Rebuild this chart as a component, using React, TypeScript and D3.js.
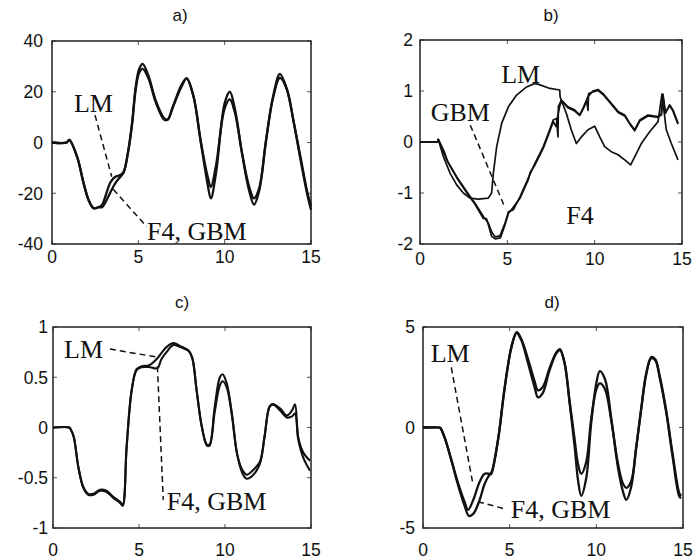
import React from "react";
import * as d3 from "d3";

type P = [number, number];

const xTicks = [0, 5, 10, 15];
const aTicks = [-40, -20, 0, 20, 40];
const bTicks = [-2, -1, 0, 1, 2];
const cTicks = [-1, -0.5, 0, 0.5, 1];
const dTicks = [-5, 0, 5];
const titles = ["a)", "b)", "c)", "d)"];

// Panel a
const aF4: P[] = [[0,0],[0.85,0],[1.0,1],[1.45,-5.6],[1.83,-16],[2.12,-22.7],[2.41,-25.9],[2.7,-25.5],[2.9,-25.5],[3.1,-23.5],[3.4,-19.4],[3.67,-16],[3.96,-13.5],[4.15,-11.8],[4.4,-4],[4.63,7],[4.85,22],[5.05,29],[5.25,31],[5.6,26],[6.0,16.7],[6.5,9.5],[6.7,9],[7.0,14],[7.5,22.7],[7.8,25.3],[8.2,18],[8.6,1],[9.0,-16],[9.2,-22],[9.5,-12],[10.0,15.5],[10.3,20],[10.6,13],[11.0,-4],[11.4,-18.5],[11.7,-24.5],[12.0,-19],[12.4,1],[12.8,18],[13.2,27],[13.6,21],[14.0,8],[14.4,-7],[14.8,-21],[15.0,-26.5]];
const aLM: P[] = [[0,0],[0.85,0],[1.0,1],[1.45,-5.6],[1.83,-16],[2.12,-22.7],[2.41,-25.9],[2.7,-25.5],[2.9,-24.6],[3.1,-21],[3.4,-15.5],[3.67,-13.5],[3.96,-12.8],[4.15,-11.5],[4.4,-4],[4.63,7],[4.85,21],[5.05,27.5],[5.25,29],[5.6,25],[6.0,16],[6.5,9],[6.7,9],[7.0,14],[7.5,22],[7.8,25.3],[8.2,18],[8.6,1],[9.0,-13],[9.2,-17.5],[9.5,-9],[10.0,13.5],[10.3,17],[10.6,11.5],[11.0,-4],[11.4,-17],[11.7,-22],[12.0,-18],[12.4,1],[12.8,17.5],[13.2,25.5],[13.6,21],[14.0,8],[14.4,-6],[14.8,-20],[15.0,-25]];

// Panel b
const bLM: P[] = [[0,0],[1.0,0],[1.05,0.05],[1.34,-0.29],[1.72,-0.61],[2.1,-0.84],[2.48,-1.0],[2.86,-1.1],[3.34,-1.12],[3.91,-1.1],[4.1,-1.0],[4.2,-0.61],[4.39,-0.09],[4.68,0.37],[5.06,0.69],[5.53,0.92],[6.1,1.08],[6.58,1.15],[6.87,1.12],[7.44,1.05],[8.0,1.02],[8.02,0.89],[8.09,0.82],[8.47,0.69],[8.85,0.63],[9.14,0.53],[9.33,0.66],[9.62,0.89],[9.9,1.0],[10.19,1.03],[10.48,0.95],[10.95,0.76],[11.34,0.6],[11.72,0.53],[12.0,0.37],[12.29,0.24],[12.58,0.43],[13.05,0.53],[13.63,0.5],[13.82,0.53],[13.91,0.94],[14.05,0.56],[14.29,0.73],[14.48,0.63],[14.77,0.37]];
const bGBM: P[] = [[0,0],[1.0,0],[1.05,0.05],[1.53,-0.35],[2.1,-0.68],[2.67,-0.97],[3.15,-1.2],[3.63,-1.46],[3.91,-1.59],[4.1,-1.76],[4.29,-1.86],[4.58,-1.84],[4.87,-1.59],[5.06,-1.37],[5.34,-1.33],[5.73,-1.07],[6.2,-0.71],[6.58,-0.42],[7.06,-0.09],[7.35,0.17],[7.63,0.43],[7.82,0.46],[7.9,0.1],[7.92,0.7],[8.0,0.75],[8.09,0.82],[8.47,0.67],[8.85,0.61],[9.14,0.52],[9.33,0.64],[9.55,0.8],[9.62,0.62],[9.65,0.95],[9.9,0.98],[10.19,1.01],[10.48,0.93],[10.95,0.74],[11.34,0.58],[11.72,0.51],[12.0,0.36],[12.29,0.22],[12.58,0.41],[13.05,0.51],[13.63,0.48],[13.82,0.55],[13.91,0.9],[14.05,0.58],[14.29,0.71],[14.48,0.61],[14.77,0.35]];
const bF4: P[] = [[0,0],[1.0,0],[1.05,0.05],[1.4,-0.2],[1.6,-0.4],[2.1,-0.7],[2.67,-0.99],[3.15,-1.22],[3.63,-1.5],[3.8,-1.5],[3.91,-1.62],[4.1,-1.85],[4.3,-1.9],[4.6,-1.88],[4.87,-1.62],[5.06,-1.4],[5.3,-1.3],[5.73,-1.1],[6.2,-0.74],[6.3,-0.6],[6.58,-0.45],[7.06,-0.12],[7.35,0.14],[7.63,0.4],[7.8,0.3],[7.85,0.45],[8.0,0.7],[8.09,0.82],[8.38,0.56],[8.66,0.24],[8.95,-0.03],[9.24,0.1],[9.62,0.24],[10.0,0.31],[10.29,0.1],[10.57,-0.09],[10.95,-0.19],[11.34,-0.25],[11.72,-0.35],[12.06,-0.45],[12.29,-0.29],[12.67,-0.03],[13.15,0.2],[13.63,0.4],[13.85,0.94],[14.1,0.24],[14.39,-0.03],[14.77,-0.35]];

// Panel c
const cF4: P[] = [[0,0],[0.95,0],[1.0,-0.01],[1.2,-0.09],[1.47,-0.39],[1.76,-0.59],[2.05,-0.66],[2.35,-0.66],[2.73,-0.62],[3.1,-0.63],[3.5,-0.69],[3.9,-0.74],[4.05,-0.77],[4.28,-0.19],[4.57,0.37],[4.86,0.57],[5.15,0.6],[5.64,0.6],[6.07,0.59],[6.3,0.68],[6.6,0.75],[7.0,0.82],[7.4,0.8],[7.9,0.76],[8.1,0.69],[8.35,0.37],[8.65,0.01],[8.95,-0.17],[9.1,-0.17],[9.4,0.2],[9.7,0.5],[9.86,0.53],[10.1,0.44],[10.4,0.14],[10.7,-0.26],[11.0,-0.45],[11.26,-0.51],[11.65,-0.47],[12.03,-0.36],[12.3,-0.09],[12.6,0.21],[12.8,0.23],[13.2,0.19],[13.6,0.12],[13.9,0.17],[14.07,0.23],[14.26,-0.1],[14.55,-0.25],[14.94,-0.33]];
const cLM: P[] = [[0,0],[0.95,0],[1.0,-0.01],[1.2,-0.09],[1.47,-0.39],[1.76,-0.6],[2.05,-0.67],[2.35,-0.67],[2.73,-0.63],[3.1,-0.64],[3.5,-0.7],[3.9,-0.75],[4.05,-0.78],[4.28,-0.2],[4.57,0.36],[4.86,0.58],[5.15,0.61],[5.6,0.62],[6.07,0.69],[6.3,0.74],[6.6,0.8],[7.0,0.84],[7.4,0.81],[7.9,0.76],[8.1,0.69],[8.35,0.37],[8.65,0.01],[8.95,-0.18],[9.1,-0.18],[9.4,0.15],[9.7,0.42],[9.86,0.46],[10.1,0.4],[10.4,0.12],[10.7,-0.26],[11.0,-0.42],[11.26,-0.47],[11.65,-0.42],[12.03,-0.34],[12.3,-0.09],[12.6,0.21],[12.8,0.23],[13.2,0.17],[13.6,0.1],[13.9,0.11],[14.07,0.14],[14.26,-0.12],[14.55,-0.3],[14.94,-0.43]];

// Panel d
const dF4: P[] = [[0,0],[0.95,0],[1.0,-0.02],[1.25,-0.5],[1.63,-1.6],[2.0,-2.8],[2.4,-3.9],[2.65,-4.4],[2.9,-4.3],[3.27,-3.6],[3.56,-2.8],[3.85,-2.35],[3.94,-2.3],[4.33,-0.6],[4.7,1.9],[5.1,4.0],[5.4,4.7],[5.67,4.35],[6.06,3.2],[6.44,2.0],[6.63,1.5],[6.9,1.7],[7.3,2.85],[7.7,3.7],[7.9,3.85],[8.17,3.2],[8.46,1.2],[8.75,-0.95],[8.94,-2.6],[9.13,-3.4],[9.42,-2.5],[9.7,0.2],[10.0,2.2],[10.2,2.8],[10.5,2.4],[10.87,0.4],[11.25,-2.0],[11.54,-3.2],[11.73,-3.6],[12.0,-3.0],[12.3,-1.0],[12.6,1.0],[12.88,2.7],[13.17,3.45],[13.4,3.35],[13.65,2.5],[14.04,0.7],[14.4,-1.45],[14.8,-3.45],[14.9,-3.5]];
const dLM: P[] = [[0,0],[0.95,0],[1.0,-0.02],[1.25,-0.5],[1.63,-1.6],[2.0,-2.7],[2.4,-3.7],[2.6,-4.1],[2.9,-3.6],[3.27,-2.7],[3.56,-2.3],[3.85,-2.3],[3.94,-2.25],[4.33,-0.6],[4.7,1.9],[5.1,4.0],[5.4,4.75],[5.67,4.4],[6.06,3.4],[6.44,2.3],[6.63,1.85],[6.9,2.0],[7.3,2.95],[7.7,3.75],[7.9,3.9],[8.17,3.2],[8.46,1.3],[8.75,-0.6],[8.94,-1.8],[9.13,-2.3],[9.42,-1.7],[9.7,0.4],[10.0,1.9],[10.2,2.2],[10.5,1.9],[10.87,0.3],[11.25,-1.8],[11.54,-2.8],[11.73,-3.0],[12.0,-2.7],[12.3,-1.0],[12.6,1.0],[12.88,2.65],[13.17,3.5],[13.4,3.4],[13.65,2.6],[14.04,0.8],[14.4,-1.3],[14.8,-3.3],[14.9,-3.4]];

// annotations: [label, x, y] in data units; pointers: [x1,y1,x2,y2]
const aLabels: [string, number, number][] = [["LM", 1.27, 12], ["F4, GBM", 5.5, -38.4]];
const aPointers: number[][] = [[2.49, 10.8, 3.46, -13.5], [3.55, -18.4, 5.48, -33.2]];
const bLabels: [string, number, number][] = [["LM", 4.65, 1.16], ["GBM", 0.61, 0.42], ["F4", 8.38, -1.61]];
const bPointers: number[][] = [[2.88, 0.33, 4.88, -1.3]];
const cLabels: [string, number, number][] = [["LM", 0.64, 0.69], ["F4, GBM", 6.61, -0.82]];
const cPointers: number[][] = [[3.31, 0.78, 6.07, 0.70], [6.07, 0.61, 6.41, -0.72]];
const dLabels: [string, number, number][] = [["LM", 0.44, 3.27], ["F4, GBM", 5.06, -4.5]];
const dPointers: number[][] = [[1.63, 2.99, 2.89, -2.86], [3.17, -3.69, 4.81, -4.07]];

interface Cfg {
  title: string; titleX: number; titleY: number;
  left: number; right: number; top: number; bottom: number;
  yDomain: [number, number]; yTicks: number[]; yGap: number; xLabelY: number;
  series: P[][]; smooth: boolean; width: number;
  labels: [string, number, number][]; pointers: number[][];
}

const panels: Cfg[] = [
  { title: titles[0], titleX: 180, titleY: 21, left: 52, right: 311, top: 41, bottom: 244, yDomain: [-40, 40], yTicks: aTicks, yGap: 9, xLabelY: 263, series: [aF4, aLM], smooth: true, width: 2.3, labels: aLabels, pointers: aPointers },
  { title: titles[1], titleX: 551, titleY: 21, left: 420, right: 682, top: 40, bottom: 244, yDomain: [-2, 2], yTicks: bTicks, yGap: 7, xLabelY: 265, series: [bLM, bGBM, bF4], smooth: false, width: 1.7, labels: bLabels, pointers: bPointers },
  { title: titles[2], titleX: 182, titleY: 308, left: 53, right: 311, top: 327, bottom: 528, yDomain: [-1, 1], yTicks: cTicks, yGap: 5, xLabelY: 556, series: [cF4, cLM], smooth: true, width: 2.1, labels: cLabels, pointers: cPointers },
  { title: titles[3], titleX: 552, titleY: 308, left: 423, right: 683, top: 327, bottom: 528, yDomain: [-5, 5], yTicks: dTicks, yGap: 8, xLabelY: 556, series: [dF4, dLM], smooth: true, width: 2.3, labels: dLabels, pointers: dPointers },
];

const SANS = "'Liberation Sans', Arial, sans-serif";
const SERIF = "'Liberation Serif', 'Times New Roman', serif";

function Panel({ cfg }: { cfg: Cfg }) {
  const x = d3.scaleLinear().domain([0, 15]).range([cfg.left, cfg.right]);
  const y = d3.scaleLinear().domain(cfg.yDomain).range([cfg.bottom, cfg.top]);
  const line = d3.line<P>()
    .x((d) => x(d[0]))
    .y((d) => y(d[1]))
    .curve(cfg.smooth ? d3.curveCatmullRom.alpha(0.5) : d3.curveLinear);
  const tl = 4;
  return (
    <g>
      <text x={cfg.titleX} y={cfg.titleY} textAnchor="middle" fontFamily={SANS} fontSize={17} fill="#111">{cfg.title}</text>
      {xTicks.map((t) => (
        <g key={"x" + t}>
          <line x1={x(t)} x2={x(t)} y1={cfg.bottom} y2={cfg.bottom - tl} stroke="#555" strokeWidth={1} />
          <line x1={x(t)} x2={x(t)} y1={cfg.top} y2={cfg.top + tl} stroke="#555" strokeWidth={1} />
          <text x={x(t)} y={cfg.xLabelY} textAnchor="middle" fontFamily={SANS} fontSize={17.5} fill="#111">{String(t)}</text>
        </g>
      ))}
      {cfg.yTicks.map((t) => (
        <g key={"y" + t}>
          <line x1={cfg.left} x2={cfg.left + tl} y1={y(t)} y2={y(t)} stroke="#555" strokeWidth={1} />
          <line x1={cfg.right} x2={cfg.right - tl} y1={y(t)} y2={y(t)} stroke="#555" strokeWidth={1} />
          <text x={cfg.left - cfg.yGap} y={y(t)} dy="0.36em" textAnchor="end" fontFamily={SANS} fontSize={17.5} fill="#111">{String(t)}</text>
        </g>
      ))}
      <rect x={cfg.left} y={cfg.top} width={cfg.right - cfg.left} height={cfg.bottom - cfg.top} fill="none" stroke="#222" strokeWidth={1.5} />
      {cfg.series.map((s, i) => (
        <path key={i} d={line(s) || ""} fill="none" stroke="#111" strokeWidth={cfg.width} strokeLinejoin="round" />
      ))}
      {cfg.pointers.map((p, i) => (
        <line key={"p" + i} x1={x(p[0])} y1={y(p[1])} x2={x(p[2])} y2={y(p[3])} stroke="#111" strokeWidth={1.5} strokeDasharray="6 4" />
      ))}
      {cfg.labels.map((l, i) => (
        <text key={"l" + i} x={x(l[1])} y={y(l[2])} fontFamily={SERIF} fontSize={26} fill="#111">{l[0]}</text>
      ))}
    </g>
  );
}

export default function App() {
  return (
    <svg width={696} height={560} style={{ position: "absolute", left: 0, top: 0, background: "#fff" }}>
      <rect width={696} height={560} fill="#fff" />
      {panels.map((p, i) => <Panel key={i} cfg={p} />)}
    </svg>
  );
}
